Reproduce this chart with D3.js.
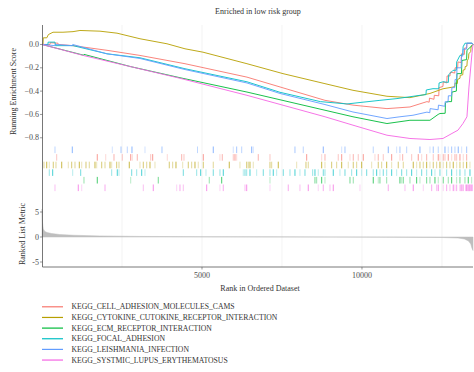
<!DOCTYPE html>
<html>
<head>
<meta charset="utf-8">
<script src="https://cdn.jsdelivr.net/npm/d3@7"></script>
<style>
  body { margin: 0; background: #fff; }
  text { font-family: "Liberation Serif", serif; }
</style>
</head>
<body>
<svg id="chart" width="474" height="372"></svg>
<script>

// gene sets, in legend order
const setNames = [
  "KEGG_CELL_ADHESION_MOLECULES_CAMS",
  "KEGG_CYTOKINE_CUTOKINE_RECEPTOR_INTERACTION",
  "KEGG_ECM_RECEPTOR_INTERACTION",
  "KEGG_FOCAL_ADHESION",
  "KEGG_LEISHMANIA_INFECTION",
  "KEGG_SYSTMIC_LUPUS_ERYTHEMATOSUS"
];
const setColors = ["#F8766D", "#B79F00", "#00BA38", "#00BFC4", "#619CFF", "#F564E3"];

// order of the hit rows, top to bottom (index into setNames)
const rugOrder = [4, 0, 1, 3, 2, 5];

const totalGenes = 13470;
const xTicks = [5000, 10000];
const xGrid = [2500, 5000, 7500, 10000, 12500];
const esTicks = [0, -0.2, -0.4, -0.6, -0.8];
const metricTicks = [5, 0, -5];

// running enrichment score, [rank, score]
const esCellAdhesion = [[0,0],[250,0],[260,0.015],[500,0.011],[510,0],[969,-0.01],[2031,-0.05],[3062,-0.094],[4469,-0.165],
  [6406,-0.28],[8844,-0.479],[9719,-0.52],[10781,-0.55],[11500,-0.536],[12031,-0.49],[12100,-0.495],[12110,-0.46],
  [12250,-0.47],[12260,-0.436],[12400,-0.44],[12410,-0.37],[12531,-0.36],[12540,-0.32],[12650,-0.33],[12660,-0.27],
  [12750,-0.27],[12760,-0.237],[12900,-0.245],[12910,-0.2],[12990,-0.2],[13000,-0.15],[13100,-0.155],[13110,-0.08],
  [13200,-0.085],[13210,-0.03],[13270,-0.03],[13281,0.01],[13440,0.01],[13470,0]];
const esCytokine = [[0,0],[31,0],[40,0.057],[150,0.057],[200,0.085],[344,0.105],[656,0.105],[969,0.11],[1187,0.12],
  [1812,0.114],[2344,0.097],[3062,0.049],[3906,0.006],[4469,-0.037],[5031,-0.066],[6406,-0.165],[7531,-0.25],
  [8844,-0.336],[9719,-0.393],[10781,-0.444],[11500,-0.456],[12125,-0.42],[12531,-0.38],[12844,-0.365],[12900,-0.36],
  [12910,-0.33],[12980,-0.335],[12990,-0.3],[13062,-0.29],[13070,-0.265],[13150,-0.26],[13160,-0.22],[13219,-0.215],
  [13225,-0.19],[13280,-0.185],[13290,-0.14],[13330,-0.12],[13340,-0.08],[13400,-0.06],[13410,-0.02],[13437,-0.01],[13470,0]];
const esEcm = [[0,0],[1300,-0.092],[1312,-0.085],[2772,-0.19],[4312,-0.285],[6406,-0.408],[8844,-0.564],[9719,-0.62],
  [10781,-0.678],[11500,-0.65],[12125,-0.65],[12380,-0.6],[12437,-0.592],[12600,-0.59],[12610,-0.5],[12656,-0.49],
  [12800,-0.49],[12812,-0.408],[12950,-0.4],[12969,-0.25],[13110,-0.25],[13125,-0.137],[13270,-0.13],[13281,-0.05],
  [13437,-0.01],[13470,0]];
const esFocal = [[0,0],[187,0],[190,0.02],[406,0.02],[420,-0.01],[969,-0.01],[2031,-0.08],[3062,-0.114],[4469,-0.208],
  [6406,-0.32],[7437,-0.41],[8700,-0.49],[9531,-0.51],[10562,-0.479],[11094,-0.464],[11812,-0.436],[12000,-0.43],
  [12010,-0.39],[12219,-0.379],[12400,-0.38],[12410,-0.33],[12531,-0.32],[12700,-0.325],[12710,-0.26],[12844,-0.222],
  [12950,-0.22],[12960,-0.15],[13062,-0.094],[13150,-0.09],[13160,-0.02],[13219,0.011],[13440,0.011],[13470,0]];
const esLeishmania = [[0,0],[406,-0.01],[410,0],[950,-0.01],[960,0],[2031,-0.08],[3062,-0.12],[4469,-0.215],
  [6406,-0.33],[7437,-0.42],[8844,-0.515],[9719,-0.579],[10781,-0.635],[11187,-0.62],[11594,-0.607],[12031,-0.58],
  [12120,-0.585],[12130,-0.55],[12380,-0.56],[12390,-0.52],[12590,-0.53],[12600,-0.49],[12690,-0.495],[12700,-0.44],
  [12800,-0.44],[12810,-0.37],[12900,-0.37],[12910,-0.3],[12960,-0.3],[12970,-0.2],[13100,-0.2],[13110,-0.1],
  [13150,-0.1],[13160,-0.04],[13270,-0.04],[13281,0.011],[13440,0.011],[13470,0]];
const esLupus = [[0,0],[1300,-0.095],[4312,-0.29],[6406,-0.436],[8844,-0.62],[9719,-0.692],[10781,-0.778],[11500,-0.806],
  [12125,-0.815],[12531,-0.806],[12812,-0.763],[13000,-0.735],[13156,-0.678],[13281,-0.62],[13344,-0.365],
  [13437,-0.08],[13470,0]];
const esCurves = [esCellAdhesion, esCytokine, esEcm, esFocal, esLeishmania, esLupus];

// hit positions (rank) per gene set
const hitsCellAdhesion = [459,1728,1991,2250,2509,2772,2822,2978,3397,3459,3916,4366,4437,5041,5562,5634,5978,6031,6084,
  6759,7125,8272,8741,8844,9259,9366,9625,9728,9884,10041,10406,10509,10666,10928,11187,11272,11553,11759,11866,
  12022,12228,12384,12437,12541,12594,12697,12803,12906,12959,13062,13166,13272];
const hitsCytokine = [62,147,228,353,437,616,822,928,1031,1166,1241,1375,1478,1656,1709,1866,1969,2125,2178,2334,2406,
  2728,3062,3166,3272,3375,3531,3978,4084,4187,4397,4572,4678,4781,4884,5041,5353,5853,6187,6397,6447,6500,6603,
  7125,7178,7384,7959,8250,8322,8741,8844,9053,9209,9366,9572,9728,9834,9991,10303,10509,10616,10772,10928,11134,
  11291,11603,11709,11812,11916,12022,12125,12228,12334,12437,12541,12647,12750,12853,12959,13062,13166,13272,13375];
const hitsEcm = [1312,1728,2772,3634,5228,5616,7125,8531,8584,8741,8844,9625,9728,10353,10509,10562,10772,11187,11241,
  11291,11500,11709,11812,12022,12125,12281,12384,12541,12697,12803,12959,13062,13219,13322,13428];
const hitsFocal = [228,334,959,1209,2178,2353,2406,2803,2959,3116,3219,4416,4834,4959,5125,5353,5562,5666,6291,6344,
  6397,6500,6709,6916,7125,7228,7334,7541,7750,7906,8062,8219,8459,8531,8634,8791,8844,9103,9312,9469,9678,9834,
  9991,10147,10353,10459,10562,10666,10772,10928,11084,11241,11397,11553,11709,11866,12022,12178,12281,12437,
  12647,12803,12959,13062,13219,13375];
const hitsLeishmania = [406,947,2197,2469,2666,2812,3219,3750,4859,5353,5978,6084,6241,6553,6603,7906,8166,8791,9366,
  9469,10353,10822,11084,11187,11397,11812,12125,12228,12384,12594,12697,12803,12906,13009,13116,13272];
const hitsLupus = [406,1134,1241,1969,3166,3478,4209,4312,4416,5147,5562,5666,6344,6397,7125,7697,8062,8322,8634,8791,
  9000,9103,9937,10822,11344,11603,11916,12178,12334,12384,12541,12647,12750,12853,12906,12959,13062,13100,13140,
  13166,13240,13272,13300,13322,13350,13375,13400,13428,13450];
const hitSets = [hitsCellAdhesion, hitsCytokine, hitsEcm, hitsFocal, hitsLeishmania, hitsLupus];

// ranked list metric, [rank, value]
const rankedMetric = [[1,5.6],[15,3.0],[40,1.6],[90,1.1],[160,0.9],[300,0.7],[550,0.5],[1000,0.35],[1800,0.22],
  [3000,0.12],[5000,0.06],[7000,0.03],[9000,0],[11000,-0.03],[12500,-0.1],[13000,-0.2],[13200,-0.4],[13330,-0.8],
  [13400,-1.4],[13440,-2.3],[13470,-2.7]];


const svg = d3.select("#chart");

const x = d3.scaleLinear().domain([0, totalGenes]).range([42, 473]);
const yES = d3.scaleLinear().domain([-0.862, 0.167]).range([145, 25]);
const yMetric = d3.scaleLinear().domain([-6, 8]).range([267, 197]);

const rugTop = 146, rugRow = 7.6;


const appendGrid = () => {
  svg.append("g")
      .selectAll("line")
      .data(xGrid)
      .enter()
      .append("line")
        .attr("x1", (d) => x(d))
        .attr("x2", (d) => x(d))
        .attr("y1", 25)
        .attr("y2", 267)
        .style("stroke", "#ebebeb")
        .style("stroke-width", 0.6);
}


const appendCurves = () => {
  const line = d3.line()
      .x((d) => x(d[0]))
      .y((d) => yES(d[1]));

  svg.append("g")
      .selectAll("path")
      .data(esCurves)
      .enter()
      .append("path")
        .attr("d", line)
        .style("fill", "none")
        .style("stroke", (d, i) => setColors[i])
        .style("stroke-width", 0.9);
}


const appendRug = () => {
  rugOrder.forEach((setIndex, row) => {
    const top = rugTop + row * rugRow;
    svg.append("g")
        .selectAll("line")
        .data(hitSets[setIndex])
        .enter()
        .append("line")
          .attr("x1", (d) => x(d))
          .attr("x2", (d) => x(d))
          .attr("y1", top + 0.5)
          .attr("y2", top + rugRow - 0.5)
          .style("stroke", setColors[setIndex])
          .style("stroke-width", 0.9)
          .style("opacity", (d, i) => [0.45, 0.8, 0.3, 0.6][i % 4]);
  });
}


const appendMetric = () => {
  const area = d3.area()
      .x((d) => x(d[0]))
      .y0(yMetric(0))
      .y1((d) => yMetric(d[1]));

  svg.append("path")
      .datum(rankedMetric)
      .attr("d", area)
      .style("fill", "#bebebe")
      .style("stroke", "#bebebe")
      .style("stroke-width", 0.5);
}


const appendAxes = () => {
  const axes = svg.append("g");

  // left spine runs through all three panels
  axes.append("line")
      .attr("x1", 42.5).attr("x2", 42.5)
      .attr("y1", 25).attr("y2", 267)
      .style("stroke", "#555")
      .style("stroke-width", 0.8);

  axes.append("line")
      .attr("x1", 42.5).attr("x2", 473)
      .attr("y1", 267).attr("y2", 267)
      .style("stroke", "#555")
      .style("stroke-width", 0.8);

  const esAxis = axes.append("g")
      .selectAll("g")
      .data(esTicks)
      .enter()
      .append("g")
        .attr("transform", (d) => `translate(0,${yES(d)})`);
  esAxis.append("line")
      .attr("x1", 40).attr("x2", 42.5)
      .style("stroke", "#555").style("stroke-width", 0.6);
  esAxis.append("text")
      .text((d) => d3.format(".1f")(d))
      .attr("x", 39)
      .attr("dy", "0.32em")
      .attr("text-anchor", "end")
      .style("font-size", "8px")
      .style("fill", "#4d4d4d");

  const metricAxis = axes.append("g")
      .selectAll("g")
      .data(metricTicks)
      .enter()
      .append("g")
        .attr("transform", (d) => `translate(0,${yMetric(d)})`);
  metricAxis.append("line")
      .attr("x1", 40).attr("x2", 42.5)
      .style("stroke", "#555").style("stroke-width", 0.6);
  metricAxis.append("text")
      .text((d) => d)
      .attr("x", 39)
      .attr("dy", "0.32em")
      .attr("text-anchor", "end")
      .style("font-size", "8px")
      .style("fill", "#4d4d4d");

  const rankAxis = axes.append("g")
      .selectAll("g")
      .data(xTicks)
      .enter()
      .append("g")
        .attr("transform", (d) => `translate(${x(d)},267)`);
  rankAxis.append("line")
      .attr("y1", 0).attr("y2", 2.5)
      .style("stroke", "#555").style("stroke-width", 0.6);
  rankAxis.append("text")
      .text((d) => d)
      .attr("y", 10.5)
      .attr("text-anchor", "middle")
      .style("font-size", "8px")
      .style("fill", "#4d4d4d");
}


const appendTitles = () => {
  svg.append("text")
      .text("Enriched in low risk group")
      .attr("x", 258)
      .attr("y", 14)
      .attr("text-anchor", "middle")
      .style("font-size", "8px")
      .style("fill", "#333");

  svg.append("text")
      .text("Running Enrichment Score")
      .attr("transform", "translate(15.5,91.5) rotate(-90)")
      .attr("text-anchor", "middle")
      .style("font-size", "8px")
      .style("fill", "#333");

  svg.append("text")
      .text("Ranked List Metric")
      .attr("transform", "translate(24.5,234) rotate(-90)")
      .attr("text-anchor", "middle")
      .style("font-size", "8px")
      .style("fill", "#333");

  svg.append("text")
      .text("Rank in Ordered Dataset")
      .attr("x", 260)
      .attr("y", 291)
      .attr("text-anchor", "middle")
      .style("font-size", "8px")
      .style("fill", "#333");
}


const appendLegend = () => {
  const items = svg.append("g")
      .selectAll("g")
      .data(setNames)
      .enter()
      .append("g")
        .attr("transform", (d, i) => `translate(0,${306.8 + i * 10.65})`);

  items.append("line")
      .attr("x1", 42).attr("x2", 63)
      .style("stroke", (d, i) => setColors[i])
      .style("stroke-width", 1.2);

  items.append("text")
      .text((d) => d)
      .attr("x", 71.5)
      .attr("dy", "0.32em")
      .style("font-size", "7.7px")
      .style("fill", "#333");
}


appendGrid();
appendMetric();
appendRug();
appendCurves();
appendAxes();
appendTitles();
appendLegend();

</script>
</body>
</html>
